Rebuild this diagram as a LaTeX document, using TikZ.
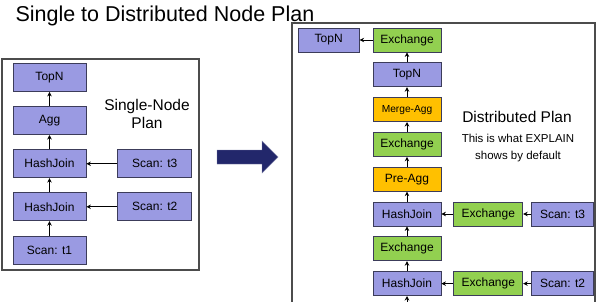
\documentclass[tikz,border=0pt]{standalone}
\usepackage{fontspec}
\setmainfont{Liberation Sans}
\usetikzlibrary{arrows.meta,positioning}

\definecolor{opblue}{HTML}{9A9AE2}
\definecolor{xgreen}{HTML}{92D050}
\definecolor{aggorange}{HTML}{FFC000}
\definecolor{edgegray}{HTML}{3C3C5A}
\definecolor{navy}{HTML}{22276B}

\begin{document}
\begin{tikzpicture}[
    x=1pt, y=-1pt,
    ->,
    >={Stealth[length=4.5pt,width=4.5pt]},
    node distance=14.3pt,
    op/.style={draw=edgegray, line width=0.8pt, minimum width=73pt, minimum height=28pt, inner sep=0pt, font=\fontsize{12}{14}\selectfont},
    single/.style={op, fill=opblue},
    dist/.style={op, minimum width=68pt, minimum height=24pt},
    xchg/.style={dist, fill=xgreen},
    aggbox/.style={dist, fill=aggorange},
    distop/.style={dist, fill=opblue},
    frame/.style={-, draw=black!70, line width=1.2pt},
    note/.style={align=center, font=\fontsize{15.5}{18}\selectfont},
    flow/.style={->, line width=0.8pt}
]

\useasboundingbox (0,0) rectangle (606,301);

\node[anchor=base west, font=\fontsize{21.5}{24}\selectfont] (title) at (12,21) {Single to Distributed Node Plan};

% single-node plan
\draw[frame] (2,59) rectangle (199,270);
\node[single] (topn) at (49.5,77.5) {TopN};
\node[single] (agg) [below=of topn] {Agg};
\node[single] (hjtop) [below=of agg] {HashJoin};
\node[single] (hjbot) [below=of hjtop] {HashJoin};
\node[single] (scanone) [below=of hjbot] {Scan: t1};
\node[single, minimum width=74pt] (scanthree) [right=31pt of hjtop] {Scan: t3};
\node[single, minimum width=74pt] (scantwo) [right=31pt of hjbot] {Scan: t2};
\node[note] (singlelbl) at (147,114) {Single-Node\\Plan};

\draw[flow] (agg) -- (topn);
\draw[flow] (hjtop) -- (agg);
\draw[flow] (hjbot) -- (hjtop);
\draw[flow] (scanone) -- (hjbot);
\draw[flow] (scanthree) -- (hjtop);
\draw[flow] (scantwo) -- (hjbot);

% big arrow
\fill[navy, draw=navy!60] (217,150) -- (262,150) -- (262,141) -- (278,157)
    -- (262,173) -- (262,164) -- (217,164) -- cycle;

% distributed plan
\draw[frame] (292,23) rectangle (595,320);
\node[xchg] (xroot) at (407,40) {Exchange};
\node[distop, minimum width=61pt] (dtopn) [left=13pt of xroot] {TopN};
\node[distop] (ltopn) [below=10pt of xroot] {TopN};
\node[aggbox, font=\fontsize{10.2}{12}\selectfont] (mergeagg) [below=10pt of ltopn] {Merge-Agg};
\node[xchg] (xagg) [below=10pt of mergeagg] {Exchange};
\node[aggbox] (preagg) [below=10pt of xagg] {Pre-Agg};
\node[distop] (dhjtop) [below=10pt of preagg] {HashJoin};
\node[xchg] (xmid) [below=10pt of dhjtop] {Exchange};
\node[distop] (dhjbot) [below=10pt of xmid] {HashJoin};
\node[xchg, minimum width=69pt] (xthree) [right=12pt of dhjtop] {Exchange};
\node[distop, minimum width=62pt] (dscanthree) [right=8pt of xthree] {Scan: t3};
\node[xchg, minimum width=69pt] (xtwo) [right=12pt of dhjbot] {Exchange};
\node[distop, minimum width=62pt] (dscantwo) [right=8pt of xtwo] {Scan: t2};
\coordinate (below) at (407,312);

\node[note] (distlbl) at (517,117) {Distributed Plan};
\node[align=center, font=\fontsize{11.5}{17}\selectfont] (explain) at (518,148.5) {This is what EXPLAIN\\shows by default};

\draw[flow] (xroot) -- (dtopn);
\draw[flow] (ltopn) -- (xroot);
\draw[flow] (mergeagg) -- (ltopn);
\draw[flow] (xagg) -- (mergeagg);
\draw[flow] (preagg) -- (xagg);
\draw[flow] (dhjtop) -- (preagg);
\draw[flow] (xmid) -- (dhjtop);
\draw[flow] (dhjbot) -- (xmid);
\draw[flow] (below) -- (dhjbot);
\draw[flow] (xthree) -- (dhjtop);
\draw[flow] (dscanthree) -- (xthree);
\draw[flow] (xtwo) -- (dhjbot);
\draw[flow] (dscantwo) -- (xtwo);

\end{tikzpicture}
\end{document}
